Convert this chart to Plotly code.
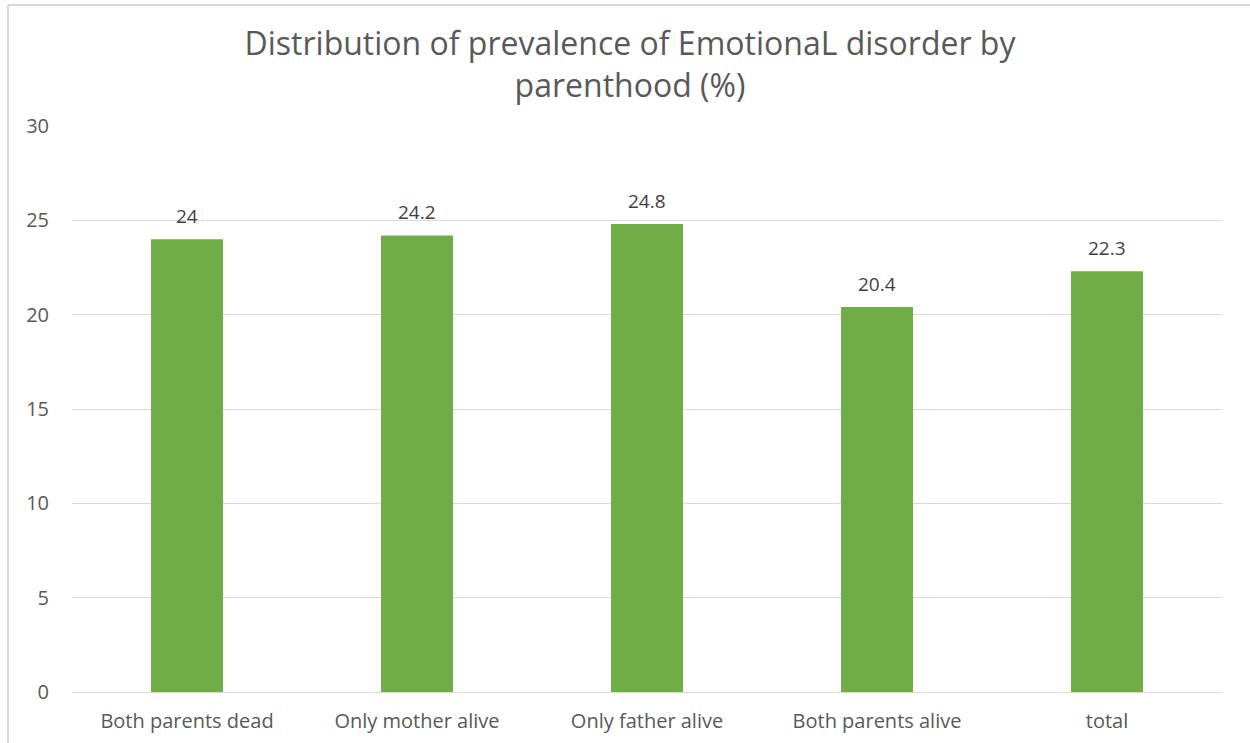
import plotly.graph_objects as go

categories = ["Both parents dead", "Only mother alive", "Only father alive", "Both parents alive", "total"]
values = [24, 24.2, 24.8, 20.4, 22.3]
value_labels = ["24", "24.2", "24.8", "20.4", "22.3"]
y_ticks = [0, 5, 10, 15, 20, 25, 30]

FONT = "Open Sans"
fig = go.Figure()
fig.add_trace(go.Bar(x=categories, y=values, marker=dict(color="#70AD47", line=dict(width=0)),
                     hoverinfo="x+y"))

for c, v, t in zip(categories, values, value_labels):
    fig.add_annotation(x=c, y=v, text=t, showarrow=False, yanchor="bottom", yshift=8,
                       font=dict(family=FONT, size=19, color="#404040"))

fig.update_layout(
    width=1250, height=743,
    margin=dict(l=72, r=28, t=126, b=51),
    paper_bgcolor="white", plot_bgcolor="white",
    bargap=0.687,
    showlegend=False,
    title=dict(text="Distribution of prevalence of EmotionaL disorder by<br>parenthood (%)",
               x=0.504, xanchor="center", xref="container",
               y=1 - 55 / 743, yanchor="middle", yref="container",
               font=dict(family=FONT, size=32, color="#595959")),
    xaxis=dict(showgrid=False, showline=True, linecolor="#D9D9D9", linewidth=1, automargin=False,
               tickfont=dict(family=FONT, size=20, color="#595959"),
               ticks="outside", ticklen=11, tickcolor="rgba(0,0,0,0)"),
    yaxis=dict(range=[0, 30], tickvals=y_ticks, showgrid=True, gridcolor="#D9D9D9", gridwidth=1,
               zeroline=False, showline=False, automargin=False,
               tickfont=dict(family=FONT, size=20, color="#595959"),
               ticks="outside", ticklen=18, tickcolor="rgba(0,0,0,0)"),
)
# outer chart border (visible on top and left)
fig.add_shape(type="line", xref="paper", yref="paper", x0=-64/1150, x1=1.1, y0=1 + 121/566, y1=1 + 121/566,
              line=dict(color="#D9D9D9", width=2))
fig.add_shape(type="line", xref="paper", yref="paper", x0=-64/1150, x1=-64/1150, y0=-0.2, y1=1 + 121/566,
              line=dict(color="#D9D9D9", width=2))

fig.write_html("out.html")
